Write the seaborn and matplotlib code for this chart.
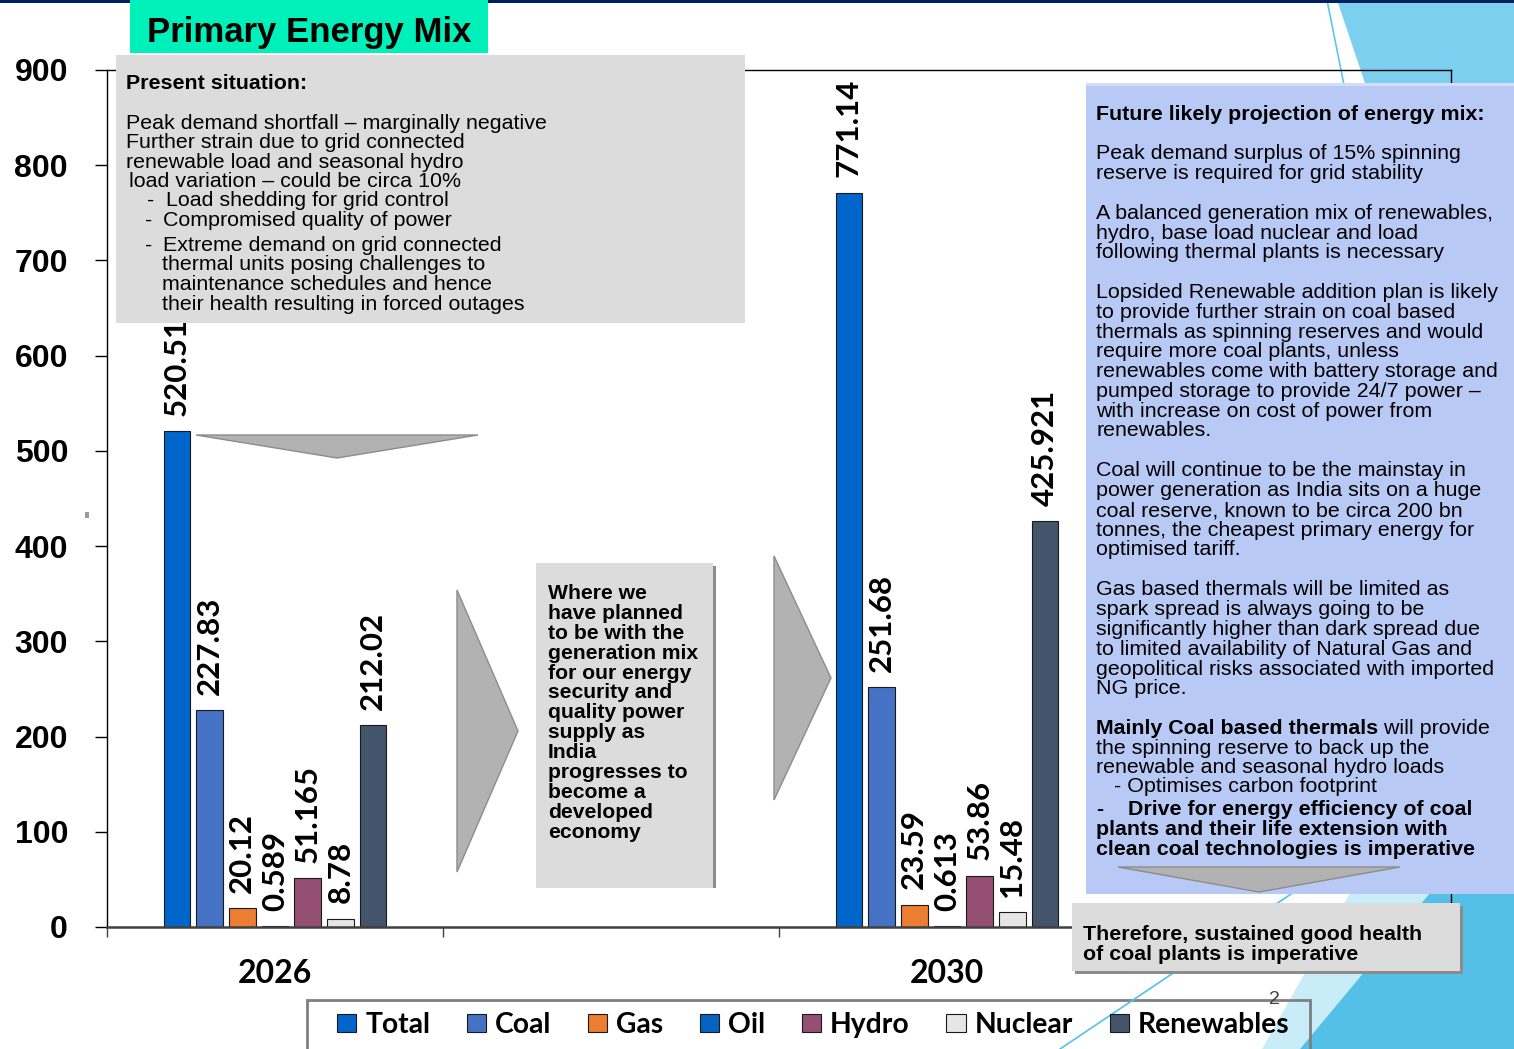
import pandas as pd
import matplotlib
matplotlib.use('Agg')
import matplotlib.pyplot as plt
import seaborn as sns
from matplotlib.patches import Rectangle, Polygon
from matplotlib.lines import Line2D

# ---- data ----
years = ['2026', '2030']
year_slots = ['2026', ' ', '2030', '  ']   # two empty category slots, as in the Excel chart
sources = ['Total', 'Coal', 'Gas', 'Oil', 'Hydro', 'Nuclear', 'Renewables']
values_2026 = [520.51, 227.83, 20.12, 0.589, 51.165, 8.78, 212.02]
values_2030 = [771.14, 251.68, 23.59, 0.613, 53.86, 15.48, 425.921]
source_colors = ['#0066CC', '#4472C4', '#ED7D31', '#0563C1', '#954F72', '#E7E6E6', '#44546A']
y_ticks = list(range(0, 1000, 100))

title_text = 'Primary Energy Mix'
present_lines = [
    ('Present situation:', 126, 89, 'bold'),
    ('Peak demand shortfall \u2013 marginally negative', 126, 129, 'normal'),
    ('Further strain due to grid connected', 126, 148, 'normal'),
    ('renewable load and seasonal hydro', 126, 168, 'normal'),
    ('load variation \u2013 could be circa 10%', 129, 187, 'normal'),
    ('-', 147, 206, 'normal'),
    ('Load shedding for grid control', 166, 206, 'normal'),
    ('-', 145, 226, 'normal'),
    ('Compromised quality of power', 163, 226, 'normal'),
    ('-', 145, 251, 'normal'),
    ('Extreme demand on grid connected', 163, 251, 'normal'),
    ('thermal units posing challenges to', 162, 270, 'normal'),
    ('maintenance schedules and hence', 162, 290, 'normal'),
    ('their health resulting in forced outages', 162, 310, 'normal'),
]
future_lines = [
    ('Future likely projection of energy mix:', 1096, 120, 'bold'),
    ('Peak demand surplus of 15% spinning', 1096, 159, 'normal'),
    ('reserve is required for grid stability', 1096, 179, 'normal'),
    ('A balanced generation mix of renewables,', 1096, 219, 'normal'),
    ('hydro, base load nuclear and load', 1096, 239, 'normal'),
    ('following thermal plants is necessary', 1096, 258, 'normal'),
    ('Lopsided Renewable addition plan is likely', 1096, 298, 'normal'),
    ('to provide further strain on coal based', 1096, 318, 'normal'),
    ('thermals as spinning reserves and would', 1096, 338, 'normal'),
    ('require more coal plants, unless', 1096, 357, 'normal'),
    ('renewables come with battery storage and', 1096, 377, 'normal'),
    ('pumped storage to provide 24/7 power \u2013', 1096, 397, 'normal'),
    ('with increase on cost of power from', 1096, 417, 'normal'),
    ('renewables.', 1096, 436, 'normal'),
    ('Coal will continue to be the mainstay in', 1096, 476, 'normal'),
    ('power generation as India sits on a huge', 1096, 496, 'normal'),
    ('coal reserve, known to be circa 200 bn', 1096, 516, 'normal'),
    ('tonnes, the cheapest primary energy for', 1096, 536, 'normal'),
    ('optimised tariff.', 1096, 555, 'normal'),
    ('Gas based thermals will be limited as', 1096, 595, 'normal'),
    ('spark spread is always going to be', 1096, 615, 'normal'),
    ('significantly higher than dark spread due', 1096, 635, 'normal'),
    ('to limited availability of Natural Gas and', 1096, 655, 'normal'),
    ('geopolitical risks associated with imported', 1096, 675, 'normal'),
    ('NG price.', 1096, 694, 'normal'),
    ('the spinning reserve to back up the', 1096, 754, 'normal'),
    ('renewable and seasonal hydro loads', 1096, 773, 'normal'),
    ('- Optimises carbon footprint', 1114, 792, 'normal'),
    ('-', 1096, 815, 'bold'),
    ('Drive for energy efficiency of coal', 1128, 815, 'bold'),
    ('plants and their life extension with', 1096, 835, 'bold'),
    ('clean coal technologies is imperative', 1096, 855, 'bold'),
]
mixed_line = ('Mainly Coal based thermals', ' will provide', 1096, 734)
plan_lines = ['Where we', 'have planned', 'to be with the', 'generation mix',
              'for our energy', 'security and', 'quality power', 'supply as',
              'India', 'progresses to', 'become a', 'developed', 'economy']
therefore_lines = ['Therefore, sustained good health', 'of coal plants is imperative']

# ---- figure in slide pixels ----
W, H = 1514, 1049
sns.set_style('white')
plt.rcParams['font.family'] = ['Liberation Sans', 'DejaVu Sans']
plt.rcParams['text.color'] = 'black'
plt.rcParams['xtick.color'] = 'black'
plt.rcParams['ytick.color'] = 'black'
plt.rcParams['axes.labelcolor'] = 'black'

fig = plt.figure(figsize=(W / 100, H / 100), dpi=100)
fig.patch.set_facecolor('white')


def fx(x):
    return x / W


def fy(y):
    return 1 - y / H


def add_rect(x0, y0, x1, y1, color, z, edge='none', lw=0):
    r = Rectangle((fx(x0), fy(y1)), (x1 - x0) / W, (y1 - y0) / H, transform=fig.transFigure,
                  facecolor=color, edgecolor=edge, linewidth=lw, zorder=z)
    fig.add_artist(r)


def add_poly(pts, color, z, edge='none', lw=0):
    p = Polygon([(fx(a), fy(b)) for a, b in pts], closed=True, transform=fig.transFigure,
                facecolor=color, edgecolor=edge, linewidth=lw, zorder=z)
    fig.add_artist(p)


def add_line(pts, color, lw, z):
    fig.add_artist(Line2D([fx(a) for a, b in pts], [fy(b) for a, b in pts],
                          transform=fig.transFigure, color=color, linewidth=lw, zorder=z))


# background decoration of the slide
add_poly([(1337, 0), (1514, 0), (1514, 525)], '#7DCFEF', -5)
add_poly([(1350, 893), (1430, 893), (1300, 1049), (1262, 1049)], '#C8ECF8', -5)
add_poly([(1430, 893), (1514, 780), (1514, 1049), (1300, 1049)], '#54C0E8', -5)
add_line([(1327, 0), (1345, 90)], '#5BC8EC', 1.2, -4)
add_line([(1060, 1049), (1300, 888)], '#4FC3EA', 1.2, 1.5)
add_rect(0, 0, W, 2.5, '#002060', -3)

# ---- chart ----
ax = fig.add_axes([fx(107), fy(927), (1451 - 107) / W, (927 - 70) / H])
ax.set_facecolor('none')

df = pd.DataFrame({
    'Year': [years[0]] * len(sources) + [years[1]] * len(sources),
    'Source': sources * 2,
    'Value': values_2026 + values_2030,
})

sns.barplot(data=df, x='Year', y='Value', hue='Source', order=year_slots, hue_order=sources,
            palette=source_colors, saturation=1, width=0.681, gap=0.19, edgecolor='#1a1a1a',
            linewidth=0.8, errorbar=None, ax=ax)

for cont in ax.containers:
    ax.bar_label(cont, fmt='{:g}', rotation=90, padding=11, fontsize=22.5,
                 fontweight='bold', family='Lato', color='black')

handles, labels = ax.get_legend_handles_labels()
ax.get_legend().remove()

ax.set_xlim(-0.5, 3.5)
ax.set_ylim(0, 900)
ax.set_yticks(y_ticks)
ax.set_xlabel('')
ax.set_ylabel('')
for s in ax.spines.values():
    s.set_visible(True)
    s.set_color('black')
    s.set_linewidth(1.0)
ax.spines['bottom'].set_color('#404040')
ax.spines['bottom'].set_linewidth(1.8)

ax.tick_params(axis='y', direction='out', length=8.6, width=1, color='black', pad=19.4, left=True)
for lab in ax.get_yticklabels():
    lab.set_fontsize(23)
    lab.set_fontweight('bold')
    lab.set_family('Liberation Sans')

ax.set_xticks([-0.5, 0.5, 1.5, 2.5, 3.5], minor=True)
ax.tick_params(axis='x', which='minor', direction='out', length=7.2, width=1, color='#404040', bottom=True)
ax.tick_params(axis='x', which='major', length=0, pad=23)
for lab in ax.get_xticklabels():
    lab.set_fontsize(23)
    lab.set_fontweight('bold')
    lab.set_family('Lato')

# legend
add_rect(307, 1000, 1310, 1052, 'none', 1, edge='#7F7F7F', lw=2)
fig.legend(handles, labels, ncol=7, loc='center left', bbox_to_anchor=(fx(337), fy(1025)),
           frameon=False, prop={'family': 'Lato', 'weight': 'bold', 'size': 20.3},
           handlelength=0.68, handleheight=0.64, handletextpad=0.32, columnspacing=1.3,
           borderpad=0, borderaxespad=0)

# ---- slide boxes and arrows ----
add_rect(130, 0, 488, 53, '#00F0B9', 2)
fig.text(fx(147), fy(42), title_text, fontsize=25, fontweight='bold', va='baseline', ha='left', zorder=3)

add_rect(116, 55, 745, 323, '#DCDCDC', 2)
for txt, x, y, w in present_lines:
    fig.text(fx(x), fy(y), txt, fontsize=15.4, fontweight=w, va='baseline', ha='left', zorder=3)

add_poly([(196, 435), (478, 435), (337, 458)], '#B2B2B2', 2, edge='#8C8C8C', lw=1)
add_poly([(457, 590), (518, 731), (457, 872)], '#B2B2B2', 2, edge='#8C8C8C', lw=1)
add_poly([(774, 556), (831, 678), (774, 800)], '#B2B2B2', 2, edge='#8C8C8C', lw=1)

add_rect(539, 566, 716, 888, '#8C8C8C', 2)
add_rect(536, 563, 713, 888, '#DCDCDC', 2.1)
for i, txt in enumerate(plan_lines):
    fig.text(fx(548), fy(599 + i * 19.9), txt, fontsize=15.2, fontweight='bold',
             va='baseline', ha='left', zorder=3)

add_rect(1086, 83, 1514, 894, '#B7C9F4', 2)
add_rect(1086, 83, 1514, 86, '#D2DEF9', 2.05)
for txt, x, y, w in future_lines:
    fig.text(fx(x), fy(y), txt, fontsize=15.4, fontweight=w, va='baseline', ha='left', zorder=3)
b_txt = fig.text(fx(mixed_line[2]), fy(mixed_line[3]), mixed_line[0], fontsize=15.4,
                 fontweight='bold', va='baseline', ha='left', zorder=3)
renderer = fig.canvas.get_renderer()
bb = b_txt.get_window_extent(renderer=renderer)
fig.text(bb.x1 / W, fy(mixed_line[3]), mixed_line[1], fontsize=15.4, va='baseline', ha='left', zorder=3)
add_poly([(1118, 867), (1400, 867), (1259, 892)], '#B2B2B2', 2.2, edge='#8C8C8C', lw=1)

add_rect(1075, 906, 1463, 974, '#8C8C8C', 2)
add_rect(1072, 903, 1460, 971, '#DCDCDC', 2.1)
for i, txt in enumerate(therefore_lines):
    fig.text(fx(1083), fy(940 + i * 19.5), txt, fontsize=15.4, fontweight='bold',
             va='baseline', ha='left', zorder=3)

add_rect(85, 512, 89, 518, '#9A9A9A', 2)
fig.text(fx(1274), fy(1004), '2', fontsize=14, color='#404040', ha='center', va='baseline', zorder=3)

fig.savefig('out.png', dpi=100)
